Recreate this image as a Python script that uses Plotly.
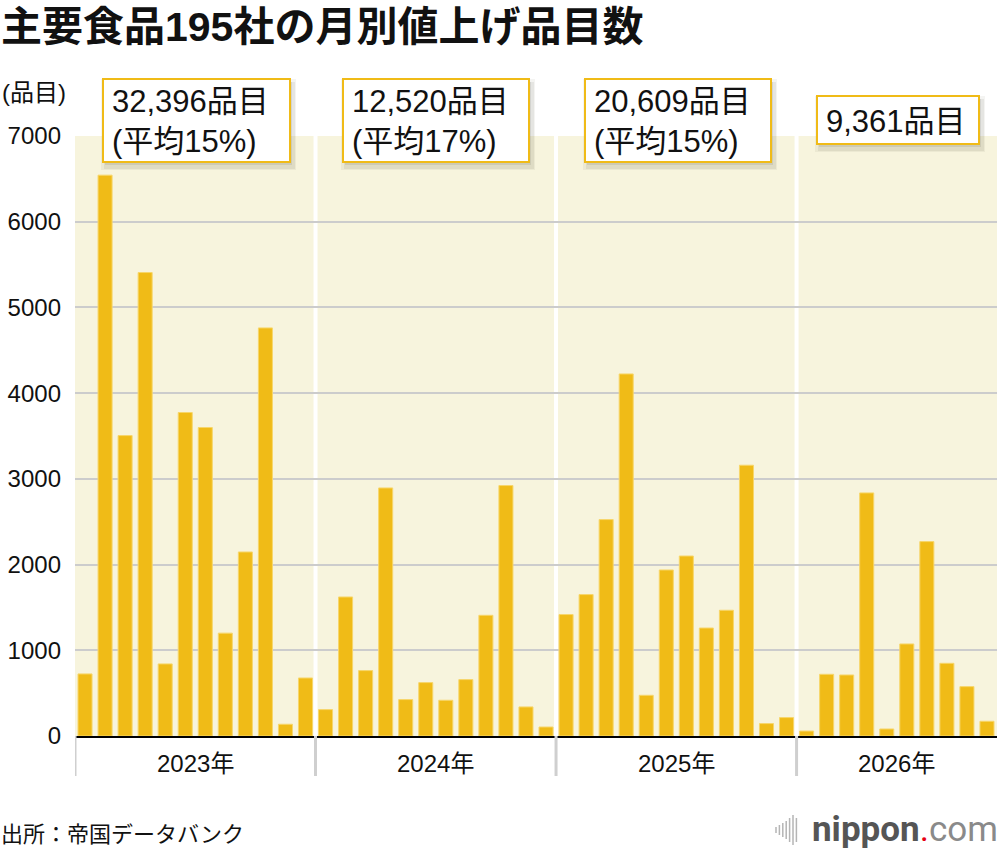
import plotly.graph_objects as go

# ---------------- data ----------------
years = ["2023年", "2024年", "2025年", "2026年"]
v2023 = [724, 6543, 3505, 5407, 841, 3774, 3599, 1200, 2147, 4761, 137, 677]
v2024 = [308, 1622, 763, 2894, 425, 623, 417, 658, 1408, 2922, 339, 105]
v2025 = [1417, 1650, 2525, 4224, 475, 1937, 2100, 1260, 1467, 3159, 145, 215]
v2026 = [58, 720, 712, 2836, 82, 1074, 2268, 848, 576, 172]
totals = ["32,396品目", "12,520品目", "20,609品目", "9,361品目"]
averages = ["(平均15%)", "(平均17%)", "(平均15%)", None]
y_ticks = [0, 1000, 2000, 3000, 4000, 5000, 6000, 7000]

series = [v2023, v2024, v2025, v2026]
values = [v for s in series for v in s]
xs = list(range(len(values)))

FONT = "Liberation Sans, Noto Sans CJK JP, sans-serif"
CJK = "Noto Sans CJK JP, sans-serif"
BAR = "#f0bb17"
BG = "#f7f4dd"
GRID = "#cccccc"

W, H = 1000, 852
ML, MR, MT, MB = 75, 3, 136, 116
PW, PH = W - ML - MR, H - MT - MB


def px(x):
    return (x - ML) / PW


def py(y):
    return (H - MB - y) / PH


fig = go.Figure()
fig.add_trace(go.Bar(
    x=xs, y=values,
    marker=dict(color=BAR, line=dict(color="#f7d66a", width=1)),
    hoverinfo="x+y",
))

shapes = []
annotations = []

# year boundaries and labels
start = 0
for i, s in enumerate(series):
    end = start + len(s)
    center = (start + end - 1) / 2
    annotations.append(dict(
        x=center, xref="x", y=py(763), yref="paper", text=years[i],
        showarrow=False, font=dict(size=24, color="#111", family=FONT),
        xanchor="center", yanchor="middle"))
    b = start - 0.5
    shapes.append(dict(type="line", xref="x", yref="paper", x0=b, x1=b,
                       y0=0, y1=py(776), line=dict(color="#cfcfcf", width=3),
                       layer="above"))
    if start > 0:
        shapes.append(dict(type="line", xref="x", yref="y", x0=b, x1=b,
                           y0=0, y1=y_ticks[-1], line=dict(color="white", width=4),
                           layer="below"))
    start = end

# annotation boxes
boxes = [
    (103, 290, 79, 162),
    (343, 529, 79, 162),
    (585, 771, 79, 162),
    (817, 979, 96, 144),
]
for i, (x0, x1, y0, y1) in enumerate(boxes):
    for dx, dy, grow, op in [(2, 4, 4, 0.06), (3, 5, 2, 0.08), (2, 3, 0, 0.10)]:
        shapes.append(dict(type="rect", xref="paper", yref="paper",
                           x0=px(x0 + dx - grow), x1=px(x1 + dx + grow),
                           y0=py(y1 + dy + grow), y1=py(y0 + dy - grow),
                           fillcolor=f"rgba(60,60,40,{op})", line=dict(width=0),
                           layer="above"))
    shapes.append(dict(type="rect", xref="paper", yref="paper",
                       x0=px(x0), x1=px(x1), y0=py(y1), y1=py(y0),
                       fillcolor="white", line=dict(color=BAR, width=2),
                       layer="above"))
    text = totals[i] if not averages[i] else totals[i] + "<br>" + averages[i]
    annotations.append(dict(x=px(x0 + 7), y=py((y0 + y1) / 2 + 1), xref="paper",
                            yref="paper", text=text, showarrow=False,
                            xanchor="left", yanchor="middle", align="left",
                            font=dict(size=31, color="#111", family=FONT)))

# title, unit, source
annotations.append(dict(x=px(-1), y=py(27), xref="paper", yref="paper",
                        text="<b>主要食品195社の月別値上げ品目数</b>", showarrow=False,
                        xanchor="left", yanchor="middle",
                        font=dict(size=41, color="#111", family=FONT)))
annotations.append(dict(x=px(0), y=py(93), xref="paper", yref="paper",
                        text="(品目)", showarrow=False, xanchor="left", yanchor="middle",
                        font=dict(size=24, color="#111", family=FONT)))
annotations.append(dict(x=px(-1), y=py(832), xref="paper", yref="paper",
                        text="出所：帝国データバンク", showarrow=False, xanchor="left",
                        yanchor="middle", font=dict(size=22, color="#111", family=CJK)))
annotations.append(dict(x=px(1000), y=py(829), xref="paper", yref="paper",
                        text="<b>nippon</b><span style='color:#e60012'>.</span>"
                             "<span style='color:#8a8a8a'>com</span>",
                        showarrow=False, xanchor="right", yanchor="middle",
                        font=dict(size=35, color="#555",
                                  family="Liberation Sans Narrow, Roboto, sans-serif")))

# logo icon (decorative vertical strokes)
icon_h = [6, 10, 14, 18, 24, 30, 24]
for k, h in enumerate(icon_h):
    xx = 776 + k * 3.4
    shapes.append(dict(type="line", xref="paper", yref="paper",
                       x0=px(xx), x1=px(xx), y0=py(830 - h / 2), y1=py(830 + h / 2),
                       line=dict(color="#b5b5b5", width=1.5), layer="above"))

fig.update_layout(
    width=W, height=H,
    margin=dict(l=ML, r=MR, t=MT, b=MB, pad=0),
    paper_bgcolor="white", plot_bgcolor=BG,
    bargap=0.3, showlegend=False,
    font=dict(family=FONT, color="#111"),
    shapes=shapes, annotations=annotations,
)
fig.update_xaxes(range=[-0.5, len(values) - 0.5], showticklabels=False, ticks="",
                 showgrid=False, zeroline=False, showline=True, linecolor="black",
                 linewidth=2, fixedrange=True)
fig.update_yaxes(range=[0, 7000], tickvals=y_ticks, tickformat="d", showgrid=True,
                 gridcolor=GRID, gridwidth=2, zeroline=False, showline=False,
                 ticks="", ticklabelstandoff=13,
                 tickfont=dict(size=24, color="#111", family=FONT), fixedrange=True)

fig.write_html("out.html")
